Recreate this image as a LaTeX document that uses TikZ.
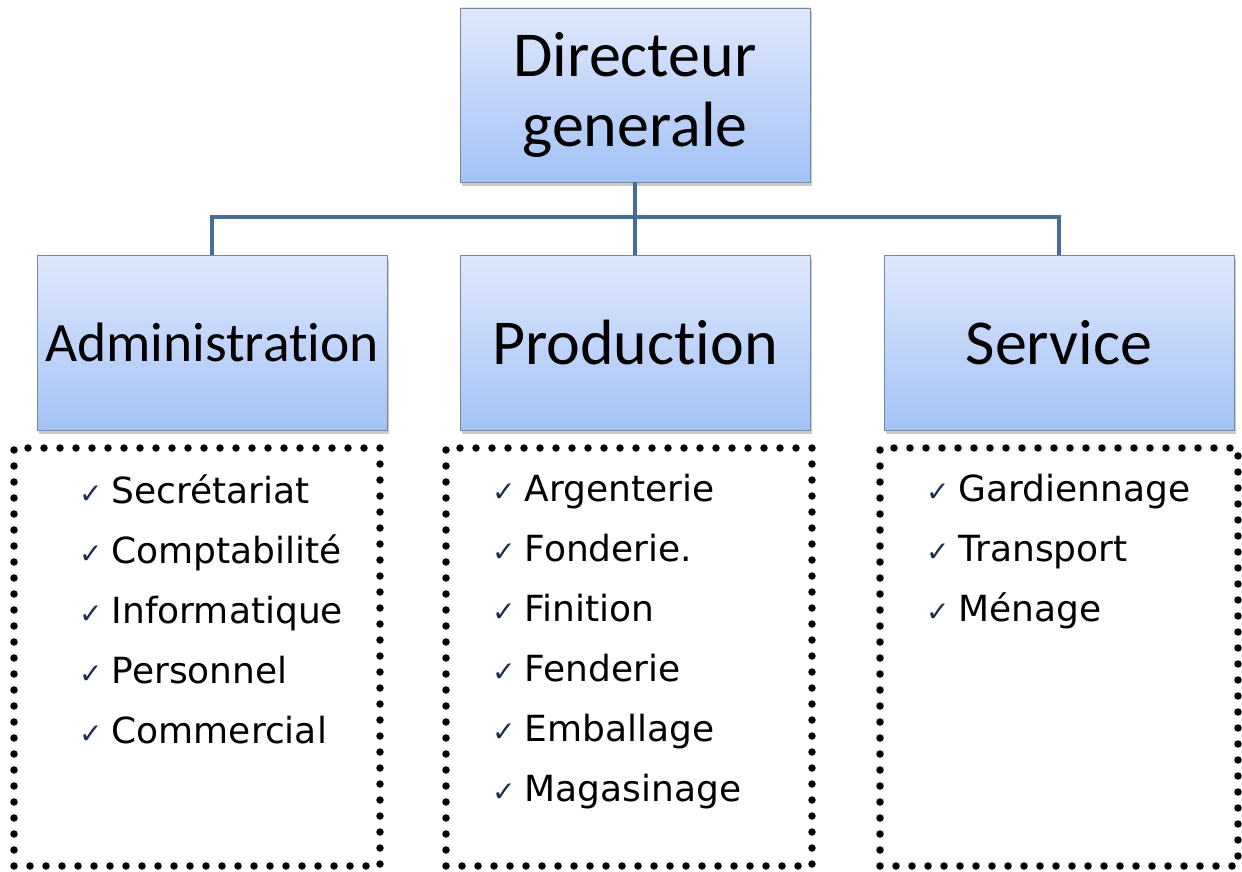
\documentclass[tikz,border=0pt]{standalone}
\usepackage{fontspec}
\setmainfont{Carlito}[Ligatures=NoCommon]
\newfontfamily\itemfont{DejaVu Sans}
\newfontfamily\symfont{DejaVu Sans}
\usetikzlibrary{shadows}
\definecolor{boxtop}{RGB}{222,232,252}
\definecolor{boxbot}{RGB}{164,194,246}
\definecolor{boxline}{RGB}{120,135,160}
\definecolor{linkblue}{RGB}{72,108,152}
\definecolor{tick}{RGB}{30,45,75}
\tikzset{
  unitbox/.style={rectangle, draw=boxline, line width=0.8pt,
    top color=boxtop, bottom color=boxbot,
    minimum width=350pt, minimum height=175pt, inner sep=0pt,
    drop shadow={shadow xshift=2pt, shadow yshift=-4pt, opacity=0.35, fill=black!60},
    font=\fontsize{64}{70}\selectfont, align=center},
  link/.style={draw=linkblue, line width=4pt},
  dotbox/.style={rectangle, draw=black, line width=7.5pt, line cap=round,
    dash pattern=on 0pt off 16pt, inner sep=0pt},
  itemlist/.style={anchor=north west, align=left, inner sep=0pt,
    font=\itemfont\fontsize{36}{60}\selectfont}
}
\newcommand{\tk}{{\symfont\color{tick}\fontsize{28}{28}\selectfont ✓}\hspace{9pt}}
\begin{document}
\begin{tikzpicture}[x=1pt,y=-1pt]
\useasboundingbox (0,0) rectangle (1242,872);

% hierarchy boxes
\coordinate (bus) at (635,217);
\node[unitbox, minimum height=174pt] (dg) at (635,95) {Directeur\\generale};
\node[unitbox, font=\fontsize{55.5}{60}\selectfont] (adm) at (212,342.5) {Administration};
\node[unitbox] (prod) at (635,342.5) {Production};
\node[unitbox] (serv) at (1059,342.5) {Service};

% tree connectors
\draw[link] (dg.south) -- (bus);
\draw[link] (adm.north) |- (bus) -| (serv.north);
\draw[link] (bus) -- (prod.north);

% dotted task frames
\node[dotbox, minimum width=366pt, minimum height=418pt] (admlist) at (197,657) {};
\node[dotbox, minimum width=366pt, minimum height=418pt] (prodlist) at (629,657) {};
\node[dotbox, minimum width=358pt, minimum height=418pt] (servlist) at (1059,657) {};

\node[itemlist] (admitems) at (79,474) {\tk Secrétariat\\\tk Comptabilité\\\tk Informatique\\\tk Personnel\\\tk Commercial};
\node[itemlist] (proditems) at (492,474) {\tk Argenterie\\\tk Fonderie.\\\tk Finition\\\tk Fenderie\\\tk Emballage\\\tk Magasinage};
\node[itemlist] (servitems) at (926,474) {\tk Gardiennage\\\tk Transport\\\tk Ménage};
\end{tikzpicture}
\end{document}
